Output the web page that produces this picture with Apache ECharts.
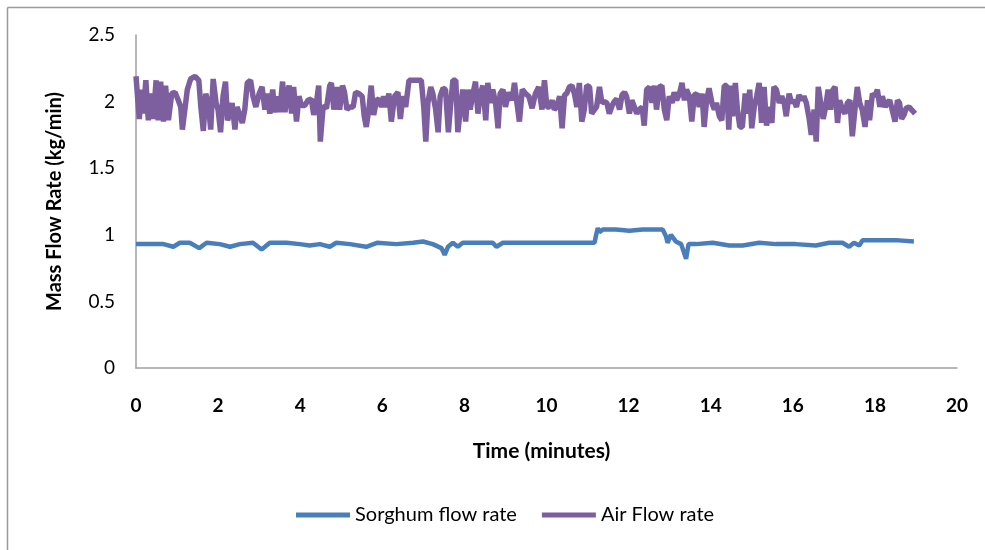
<!DOCTYPE html>
<html><head><meta charset="utf-8">
<script src="https://cdn.jsdelivr.net/npm/echarts@6/dist/echarts.min.js"></script>
<style>html,body{margin:0;padding:0;background:#fff}#c{width:985px;height:550px}</style>
</head><body><div id="c"></div>
<script>
var xTicks = [0, 2, 4, 6, 8, 10, 12, 14, 16, 18, 20];
var yTicks = [0, 0.5, 1, 1.5, 2, 2.5];
var seriesNames = ["Sorghum flow rate", "Air Flow rate"];

var sorghumTime = [0.0,0.34,0.67,0.91,1.07,1.31,1.54,1.72,2.04,2.29,2.53,2.85,3.06,3.26,3.67,3.99,4.23,4.48,4.72,4.88,5.21,5.61,5.87,6.34,6.75,6.99,7.23,7.44,7.52,7.60,7.72,7.84,7.96,8.37,8.69,8.78,8.94,9.51,9.91,10.40,10.80,11.17,11.21,11.25,11.29,11.37,11.69,12.02,12.34,12.67,12.83,12.91,12.95,13.03,13.15,13.28,13.40,13.46,13.64,14.05,14.45,14.78,15.18,15.59,16.07,16.56,16.89,17.21,17.37,17.49,17.62,17.70,18.10,18.51,18.95];
var sorghumFlow = [0.93,0.93,0.93,0.91,0.94,0.94,0.90,0.94,0.93,0.91,0.93,0.94,0.89,0.94,0.94,0.93,0.92,0.93,0.91,0.94,0.93,0.91,0.94,0.93,0.94,0.95,0.93,0.90,0.85,0.91,0.94,0.91,0.94,0.94,0.94,0.91,0.94,0.94,0.94,0.94,0.94,0.94,1.00,1.05,1.02,1.04,1.04,1.03,1.04,1.04,1.04,0.99,0.94,1.00,0.95,0.93,0.82,0.93,0.93,0.94,0.92,0.92,0.94,0.93,0.93,0.92,0.94,0.94,0.91,0.94,0.92,0.96,0.96,0.96,0.95];

var airTime = [0.0,0.08,0.14,0.18,0.24,0.30,0.36,0.42,0.49,0.54,0.60,0.67,0.72,0.79,0.87,0.95,1.03,1.09,1.13,1.19,1.25,1.33,1.44,1.53,1.58,1.64,1.70,1.76,1.82,1.88,1.95,2.00,2.06,2.12,2.18,2.23,2.29,2.34,2.41,2.46,2.53,2.59,2.65,2.71,2.79,2.85,2.92,3.00,3.07,3.14,3.20,3.26,3.33,3.38,3.45,3.50,3.57,3.63,3.68,3.73,3.79,3.84,3.91,3.97,4.03,4.11,4.19,4.27,4.33,4.40,4.45,4.49,4.56,4.64,4.72,4.76,4.82,4.90,4.96,5.03,5.08,5.14,5.21,5.29,5.35,5.43,5.51,5.56,5.61,5.68,5.73,5.79,5.86,5.92,5.98,6.03,6.10,6.16,6.22,6.30,6.38,6.44,6.50,6.57,6.65,6.73,6.81,6.89,6.95,7.01,7.06,7.11,7.18,7.23,7.30,7.36,7.41,7.48,7.54,7.61,7.66,7.72,7.79,7.84,7.90,7.96,8.03,8.09,8.14,8.21,8.27,8.33,8.39,8.45,8.52,8.57,8.63,8.69,8.76,8.82,8.87,8.94,9.00,9.08,9.16,9.22,9.28,9.34,9.41,9.49,9.57,9.65,9.73,9.81,9.89,9.95,10.01,10.07,10.14,10.19,10.25,10.32,10.38,10.44,10.49,10.56,10.62,10.68,10.74,10.80,10.86,10.92,10.98,11.05,11.10,11.17,11.22,11.29,11.35,11.41,11.47,11.53,11.60,11.65,11.71,11.78,11.84,11.90,11.95,12.02,12.08,12.14,12.20,12.26,12.33,12.38,12.44,12.51,12.57,12.63,12.68,12.75,12.81,12.87,12.93,12.99,13.06,13.11,13.17,13.24,13.30,13.36,13.41,13.48,13.54,13.60,13.66,13.72,13.79,13.84,13.90,13.96,14.03,14.09,14.14,14.21,14.27,14.33,14.39,14.44,14.49,14.53,14.60,14.65,14.71,14.77,14.84,14.90,14.95,15.00,15.06,15.12,15.18,15.24,15.30,15.36,15.42,15.49,15.54,15.60,15.67,15.73,15.79,15.84,15.91,15.97,16.03,16.09,16.15,16.22,16.27,16.33,16.40,16.45,16.52,16.57,16.62,16.68,16.74,16.80,16.86,16.92,16.98,17.03,17.09,17.14,17.21,17.27,17.33,17.39,17.45,17.52,17.57,17.63,17.69,17.76,17.82,17.87,17.94,18.00,18.06,18.12,18.18,18.25,18.30,18.36,18.42,18.49,18.55,18.60,18.65,18.71,18.76,18.83,18.89,18.98];
var airFlow = [2.19,1.87,2.09,1.91,2.16,1.86,2.06,1.87,2.16,1.86,2.15,1.85,2.12,1.86,2.06,2.07,2.01,1.96,1.79,1.94,2.09,2.17,2.19,2.16,1.96,1.78,2.06,1.99,1.79,2.17,1.99,1.94,1.77,2.04,2.15,1.86,1.91,1.99,1.79,1.96,1.90,1.84,1.94,2.14,2.16,2.04,1.96,2.06,2.11,1.94,2.06,1.91,2.09,1.92,2.04,1.92,2.15,1.92,2.06,2.12,1.91,2.11,1.85,2.04,1.97,1.97,2.01,2.02,1.90,2.00,2.12,1.70,1.97,1.95,2.12,2.14,1.94,2.11,1.94,2.12,2.07,1.94,1.96,1.96,2.07,2.06,2.04,1.89,1.81,1.96,2.12,1.90,2.01,2.02,1.96,2.04,1.96,2.06,1.85,2.04,2.07,1.87,2.04,1.96,2.16,2.16,2.16,2.16,2.16,1.96,1.70,1.99,2.11,2.06,1.94,1.77,2.04,2.10,2.09,1.77,1.96,2.16,2.16,1.77,1.94,2.09,1.85,2.09,1.94,2.06,2.15,1.91,2.06,2.12,1.86,2.14,1.99,2.09,1.99,1.80,2.06,2.09,1.96,2.07,2.01,2.14,1.99,1.85,2.09,2.06,2.04,1.95,2.06,2.11,1.94,2.16,1.96,1.96,2.01,1.94,1.96,2.04,1.80,2.05,2.06,2.11,2.12,2.06,1.96,2.14,1.85,1.94,2.12,2.11,1.91,1.94,1.96,2.11,1.99,2.00,1.99,1.91,1.97,2.00,2.02,1.94,2.05,2.07,2.04,1.91,2.01,1.96,1.91,1.94,1.96,1.82,2.09,2.11,1.99,2.12,1.94,2.11,2.12,1.94,1.86,2.04,1.99,2.07,2.01,2.06,2.14,2.01,2.09,2.04,1.85,2.05,2.06,1.96,2.06,1.81,2.01,2.10,1.99,1.94,1.99,1.89,1.86,2.12,2.12,1.79,2.12,1.89,2.14,1.94,1.81,1.81,2.06,1.91,2.09,1.80,1.96,2.04,2.14,1.84,2.11,1.82,1.96,1.84,2.11,2.09,1.99,2.04,1.99,1.89,2.06,1.99,2.01,1.96,2.05,2.01,2.04,1.99,1.87,1.75,1.94,1.70,2.11,1.99,1.87,1.96,2.09,1.94,2.09,2.11,1.84,2.01,1.94,1.91,1.99,2.01,1.74,1.96,2.11,1.99,1.94,1.81,2.01,1.86,2.06,2.04,2.09,1.96,2.04,1.96,1.99,2.01,1.94,1.85,2.01,1.99,1.87,1.90,1.95,1.96,1.94,1.91];

function pairs(t, v) { return t.map(function (x, i) { return [x, v[i]]; }); }

var FONT = 'Lato, "Open Sans", sans-serif';
var chart = echarts.init(document.getElementById('c'), null, {renderer: 'canvas'});
chart.setOption({
  animation: false,
  backgroundColor: '#ffffff',
  textStyle: {fontFamily: FONT},
  graphic: [
    {type: 'line', shape: {x1: 7.5, y1: 7.5, x2: 7.5, y2: 550}, style: {stroke: '#9a9a9a', lineWidth: 1.5}, silent: true},
    {type: 'line', shape: {x1: 7.5, y1: 7.5, x2: 985, y2: 7.5}, style: {stroke: '#9a9a9a', lineWidth: 1.5}, silent: true}
  ],
  grid: {left: 136, right: 28, top: 35, bottom: 182, containLabel: false},
  legend: {
    bottom: 20, left: 291,
    itemWidth: 54, itemHeight: 5, itemGap: 25,
    icon: 'rect',
    textStyle: {fontSize: 20, color: '#000', fontFamily: FONT},
    data: seriesNames
  },
  xAxis: {
    type: 'value', min: xTicks[0], max: xTicks[xTicks.length - 1], interval: 2,
    name: 'Time (minutes)', nameLocation: 'middle', nameGap: 73,
    nameTextStyle: {fontSize: 21, fontWeight: 'bold', color: '#000', fontFamily: FONT, padding: [0, 10, 0, 0]},
    axisLine: {lineStyle: {color: '#a0a0a0', width: 1.5}},
    axisTick: {show: false},
    splitLine: {show: false},
    axisLabel: {fontSize: 19, fontWeight: 'bold', color: '#000', margin: 28, fontFamily: FONT}
  },
  yAxis: {
    type: 'value', min: yTicks[0], max: yTicks[yTicks.length - 1], interval: 0.5,
    name: 'Mass Flow Rate (kg/min)', nameLocation: 'middle', nameGap: 71, nameRotate: 90,
    nameTextStyle: {fontSize: 20, fontWeight: 'bold', color: '#000', fontFamily: FONT},
    axisLine: {show: true, lineStyle: {color: '#a0a0a0', width: 1.5}},
    axisTick: {show: false},
    splitLine: {show: false},
    axisLabel: {fontSize: 19, color: '#000', margin: 21, fontFamily: FONT}
  },
  series: [
    {name: seriesNames[0], type: 'line', data: pairs(sorghumTime, sorghumFlow), showSymbol: false,
     lineStyle: {color: '#4A7EBB', width: 4.5}, itemStyle: {color: '#4A7EBB'}, z: 3},
    {name: seriesNames[1], type: 'line', data: pairs(airTime, airFlow), showSymbol: false,
     lineStyle: {color: '#7D5FA0', width: 5.5}, itemStyle: {color: '#7D5FA0'}, z: 2}
  ]
});
</script>
</body></html>
